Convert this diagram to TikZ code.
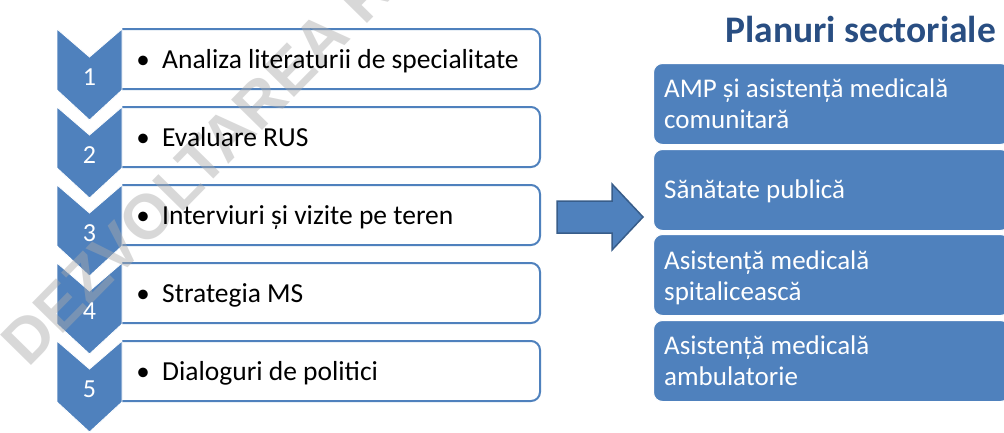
\documentclass[tikz,border=0pt]{standalone}
\usepackage{fontspec}
\setmainfont{Carlito}
\newfontfamily\wmfont{Liberation Sans}
\definecolor{accent}{RGB}{79,129,189}
\definecolor{accentdark}{RGB}{56,93,138}
\definecolor{titleblue}{RGB}{41,78,130}
\definecolor{wmgray}{RGB}{170,170,170}
\begin{document}
\begin{tikzpicture}[x=1pt,y=-1pt,
  stepbox/.style={draw=accent, line width=2pt, fill=white, rounded corners=9pt},
  chev/.style={fill=accent, draw=white, line width=0.8pt},
  num/.style={text=white, font=\fontsize{26}{28}\selectfont},
  bul/.style={anchor=base, inner sep=0pt, font=\fontsize{27}{30}\selectfont},
  itemtxt/.style={anchor=base west, inner sep=0pt, font=\fontsize{27.5}{30}\selectfont},
  planbox/.style={fill=accent, draw=white, line width=1pt, rounded corners=9pt},
  plantxt/.style={anchor=base west, inner sep=0pt, text=white, align=left, font=\fontsize{27}{31}\selectfont},
  bigarrow/.style={fill=accent, draw=accentdark, line width=1.5pt, line join=miter},
  wm/.style={text=wmgray, text opacity=0.45, font=\wmfont\bfseries\fontsize{63}{63}\selectfont, inner sep=0pt}
]
\useasboundingbox (0,0) rectangle (1004,432);
\clip (0,0) rectangle (1004,432);
\fill[white] (0,0) rectangle (1004,432);

% left step boxes
\begin{scope}
  \clip (122,0) rectangle (1004,432);
  \foreach \i in {0,...,4}{
    \pgfmathsetmacro{\t}{29+78*\i}
    \draw[stepbox] (100,\t) rectangle (540,\t+60);
  }
\end{scope}
% chevrons
\foreach \i in {0,...,4}{
  \pgfmathsetmacro{\t}{29+78*\i}
  \draw[chev] (57,\t) -- (89.5,\t+28) -- (122,\t) -- (122,\t+61) -- (89.5,\t+91) -- (57,\t+61) -- cycle;
}

% right plan boxes
\node[planbox, minimum width=356pt, minimum height=81pt, anchor=north west] (p1) at (653,63) {};
\node[planbox, minimum width=356pt, minimum height=81pt, anchor=north west] (p2) at (653,149) {};
\node[planbox, minimum width=356pt, minimum height=81pt, anchor=north west] (p3) at (653,234) {};
\node[planbox, minimum width=356pt, minimum height=81pt, anchor=north west] (p4) at (653,320) {};

% block arrow
\draw[bigarrow] (557,201) -- (612,201) -- (612,184) -- (643,217) -- (612,250) -- (612,233) -- (557,233) -- cycle;

% watermark
\node[wm, rotate=45.5, anchor=base west] (wmark) at (28,369) {DEZVOLTAREA RESURSELOR UMANE};

% numbers
\foreach \i in {1,...,5}{
  \node[num] (n\i) at (89.5,{29+78*(\i-1)+48}) {\i};
}
% item texts
\foreach \i/\txt in {1/Analiza literaturii de specialitate, 2/Evaluare RUS, 3/Interviuri și vizite pe teren, 4/Strategia MS, 5/Dialoguri de politici}{
  \node[bul] (b\i) at (143,{68+78*(\i-1)}) {\textbullet};
  \node[itemtxt] (s\i) at (162,{68+78*(\i-1)}) {\txt};
}

% title
\node[anchor=base east, inner sep=0pt, text=titleblue, font=\bfseries\fontsize{37.5}{40}\selectfont] (title) at (996,42) {Planuri sectoriale};

% plan texts (anchor at baseline of last line)
\node[plantxt] (t1) at (664,128) {AMP și asistență medicală\\comunitară};
\node[plantxt] (t2) at (664,198) {Sănătate publică};
\node[plantxt] (t3) at (664,300) {Asistență medicală\\spitalicească};
\node[plantxt] (t4) at (664,385) {Asistență medicală\\ambulatorie};
\end{tikzpicture}
\end{document}
